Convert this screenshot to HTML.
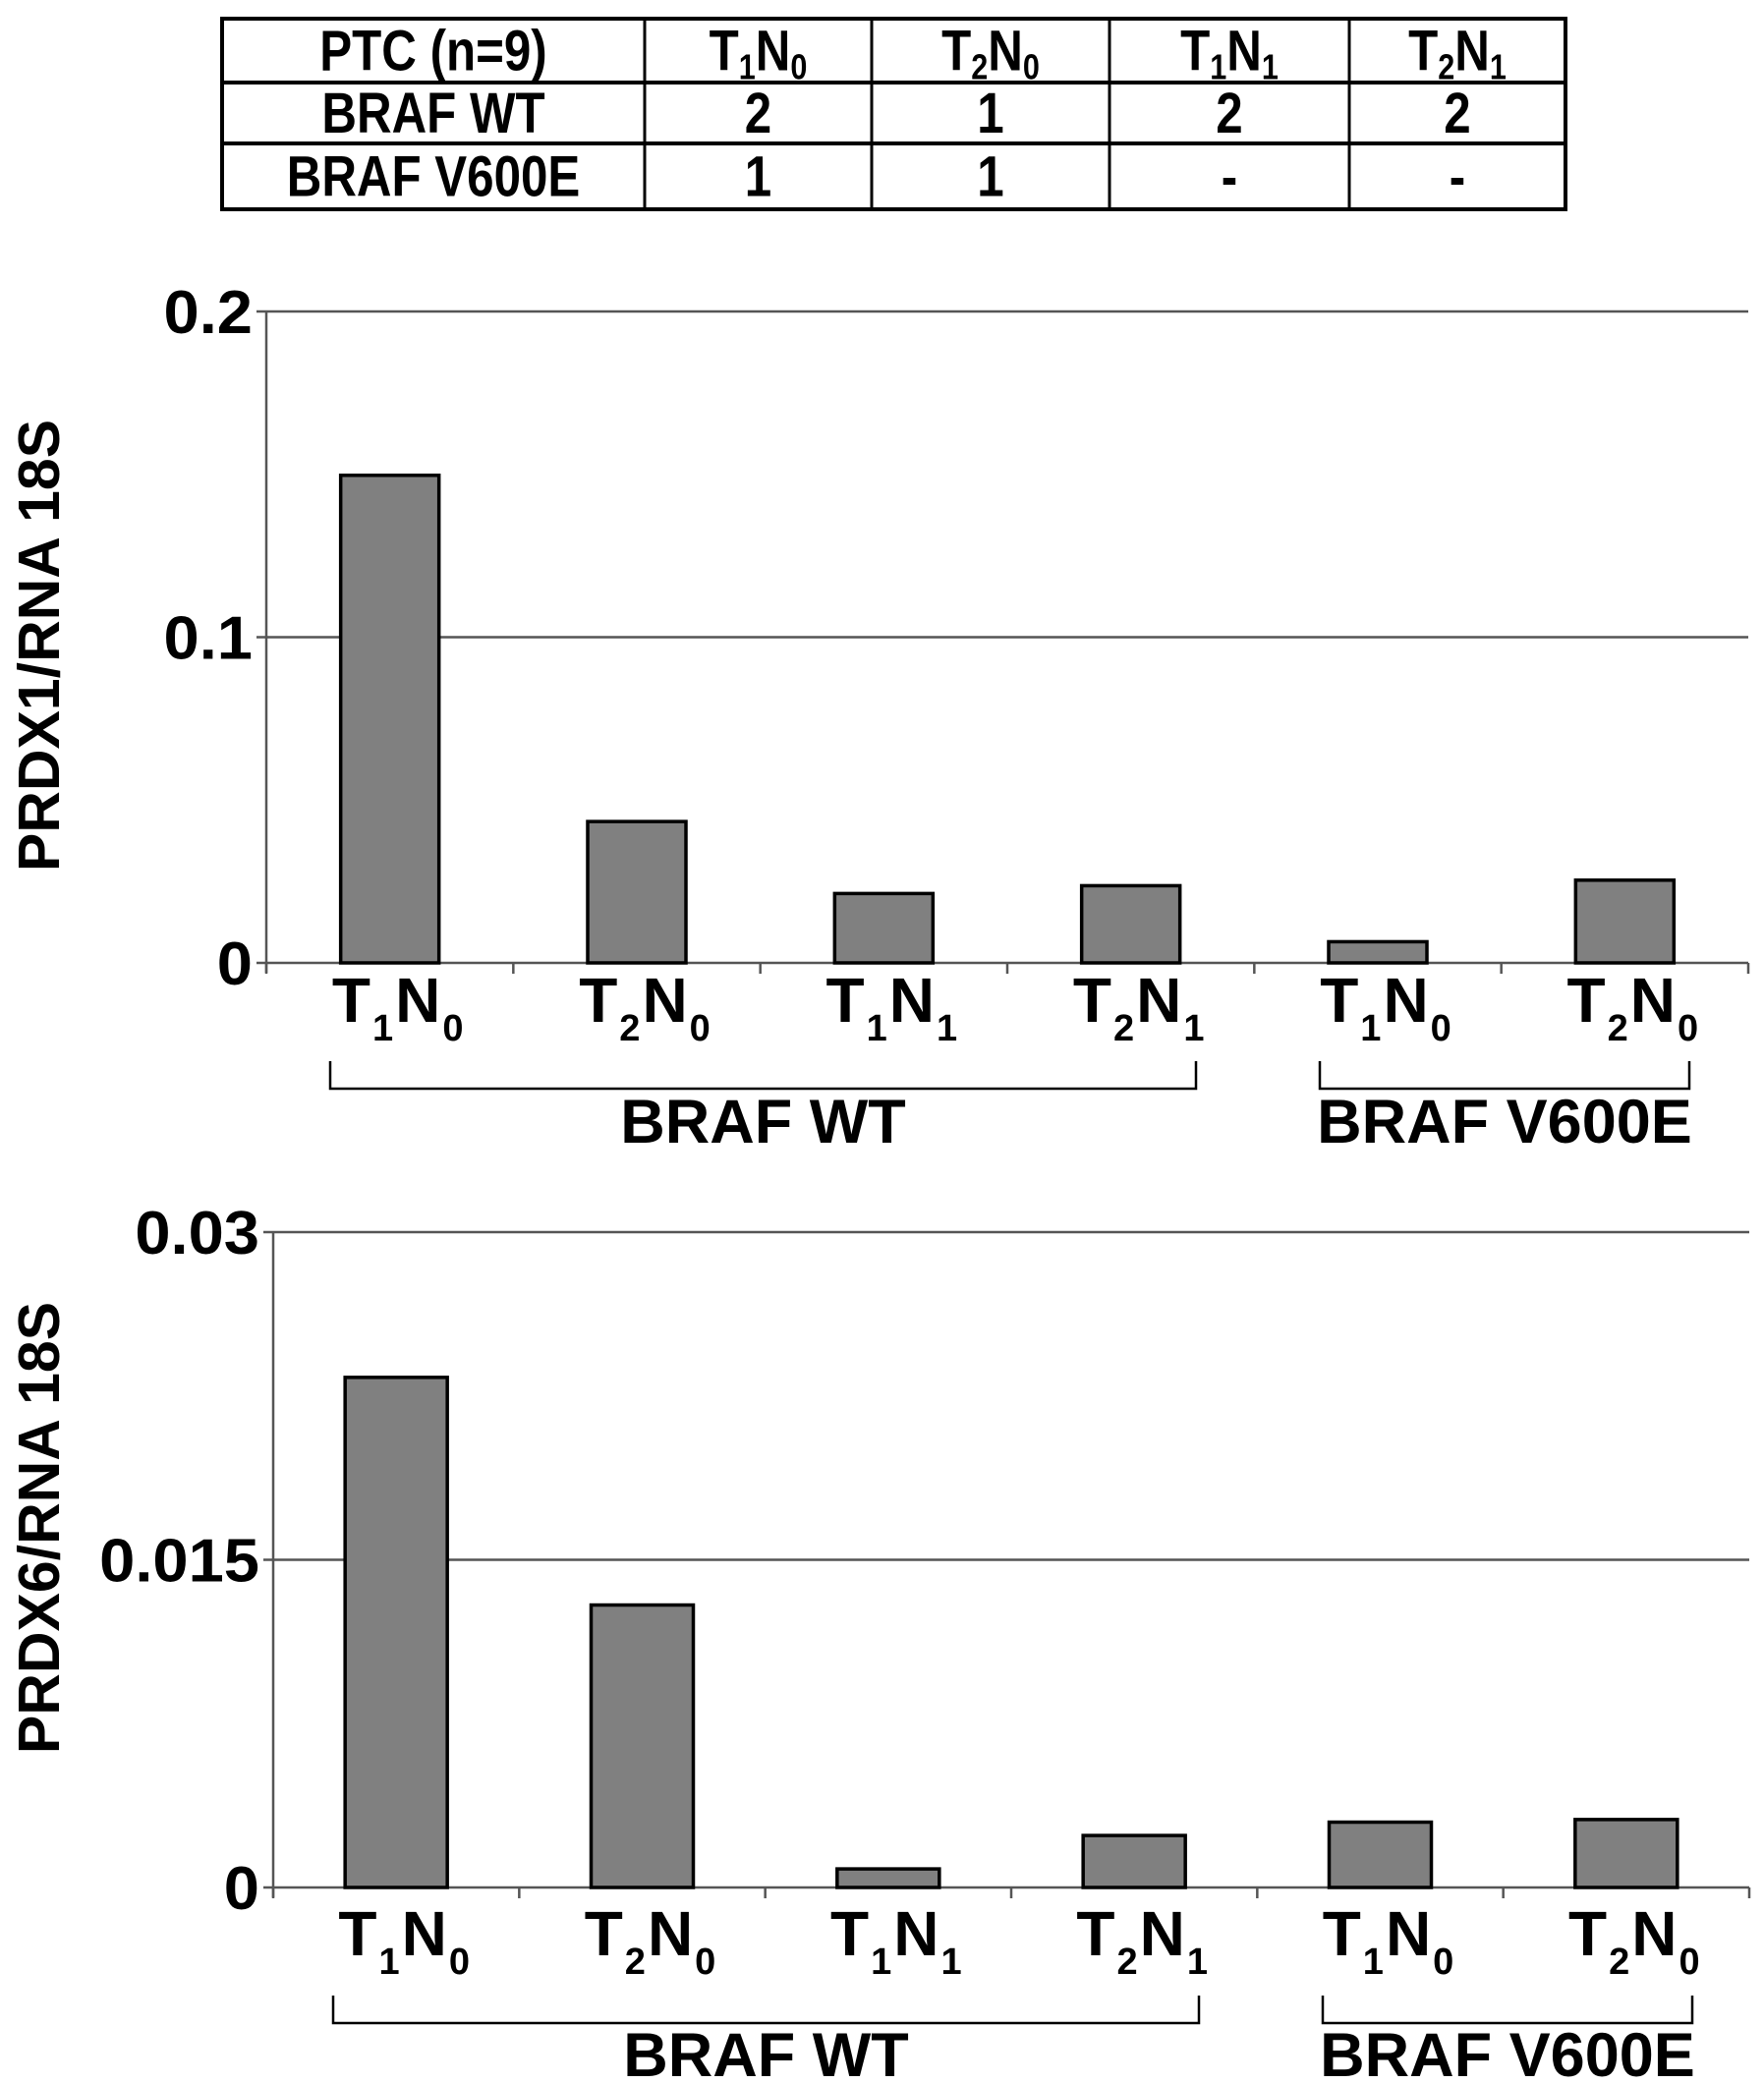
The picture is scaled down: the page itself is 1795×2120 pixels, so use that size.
<!DOCTYPE html>
<html><head><meta charset="utf-8"><style>
html,body{margin:0;padding:0;background:#fff}
svg{display:block}
text{font-family:"Liberation Sans",Arial,sans-serif;font-weight:bold;fill:#000}
</style></head><body>
<svg id="fig" width="1795" height="2120" viewBox="0 0 1795 2120" xmlns="http://www.w3.org/2000/svg"></svg>
<script>
const categories = ["T1N0","T2N0","T1N1","T2N1","T1N0","T2N0"];
const prdx1Values = [0.1497, 0.0434, 0.0213, 0.0237, 0.0065, 0.0254];
const prdx6Values = [0.02335, 0.01293, 0.00085, 0.00238, 0.00299, 0.00311];
const prdx1Ticks = [0, 0.1, 0.2];
const prdx1TickLabels = ["0", "0.1", "0.2"];
const prdx6Ticks = [0, 0.015, 0.03];
const prdx6TickLabels = ["0", "0.015", "0.03"];
const tableHeader = ["PTC (n=9)","T1N0","T2N0","T1N1","T2N1"];
const tableRowWT = ["BRAF WT","2","1","2","2"];
const tableRowV600E = ["BRAF V600E","1","1","-","-"];

const NS = "http://www.w3.org/2000/svg";
const svg = document.getElementById("fig");
function mk(tag, attrs, parent){
  const e = document.createElementNS(NS, tag);
  for (const k in attrs) e.setAttribute(k, attrs[k]);
  (parent||svg).appendChild(e);
  return e;
}
function subLabel(parent, x, y, code, big, small, dy, gap){
  const t = mk("text", {x:x, y:y, "text-anchor":"middle", "font-size":big}, parent);
  const parts = [code[0], code[1], code[2], code[3]];
  parts.forEach((p,i)=>{
    const ts = document.createElementNS(NS,"tspan");
    ts.textContent = p;
    if (i%2===1){ ts.setAttribute("font-size", small); ts.setAttribute("dy", dy); ts.setAttribute("dx", gap); }
    else if (i>0){ ts.setAttribute("dy", -dy); ts.setAttribute("dx", gap); }
    t.appendChild(ts);
  });
  return t;
}

// ---------- table ----------
const colX = [226, 656, 887, 1129, 1373, 1593];
const rowY = [19, 84, 146, 213];
const tbl = mk("g", {});


mk("rect", {x:colX[0], y:rowY[0], width:colX[5]-colX[0], height:rowY[3]-rowY[0], fill:"none", stroke:"#000", "stroke-width":4}, tbl);
for (let i=1;i<5;i++) mk("line",{x1:colX[i],x2:colX[i],y1:rowY[0],y2:rowY[3],stroke:"#000","stroke-width":3},tbl);
for (let j=1;j<3;j++) mk("line",{x1:colX[0],x2:colX[5],y1:rowY[j],y2:rowY[j],stroke:"#000","stroke-width":4},tbl);
const rows = [tableHeader, tableRowWT, tableRowV600E];
rows.forEach((row, r)=>{
  row.forEach((cell, c)=>{
    const cx = (colX[c]+colX[c+1])/2;
    const base = rowY[r] + (rowY[r+1]-rowY[r])/2 + 20;
    const g = mk("g", {transform:`translate(${cx},${base}) scale(0.85,1)`}, tbl);
    
    
    if (r===0 && c>0) subLabel(g, 0, 0, cell, 58, 36, 9, 0);
    else mk("text", {x:0, y:0, "text-anchor":"middle", "font-size":58}, g).textContent = cell;
  });
});

// ---------- charts ----------
function drawChart(cfg){
  const g = mk("g", {});
  
  
  const maxV = cfg.ticks[cfg.ticks.length-1];
  const yScale = v => cfg.y0 - (v/maxV)*(cfg.y0 - cfg.yTop);
  const catW = (cfg.xR - cfg.xL)/cfg.values.length;
  const xCenter = i => cfg.xL + catW*(i+0.5);
  cfg.ticks.forEach((t,i)=>{
    const y = yScale(t);
    const gl = mk("line",{x1:cfg.xL-10,x2:cfg.xR,y1:y,y2:y,stroke:"#555","stroke-width":2.5},g);
    
    
    const tg = mk("g",{transform:`translate(${cfg.xL-14},${y+22}) scale(1.05,1)`},g);
    const tl = mk("text",{x:0,y:0,"text-anchor":"end","font-size":62},tg);
    tl.textContent = cfg.tickLabels[i];
    
    
  });
  const ya = mk("line",{x1:cfg.xL,x2:cfg.xL,y1:cfg.yTop,y2:cfg.y0+10,stroke:"#555","stroke-width":2.5},g);
  
  
  for (let i=0;i<=cfg.values.length;i++){
    const x = cfg.xL + catW*i;
    mk("line",{x1:x,x2:x,y1:cfg.y0,y2:cfg.y0+11,stroke:"#555","stroke-width":2.5},g);
  }
  cfg.values.forEach((v,i)=>{
    const y = yScale(v);
    const b = mk("rect",{x:xCenter(i)-cfg.barW/2,y:y,width:cfg.barW,height:cfg.y0-y,fill:"#808080",stroke:"#000","stroke-width":3.5},g);
    
    
    const lbl = subLabel(g, xCenter(i)+8, cfg.labelY, categories[i], 64, 38, 19, 2);
    
    
  });
  const yt = mk("text",{x:0,y:0,"text-anchor":"middle","font-size":59,transform:`translate(${cfg.titleX},${cfg.titleY}) rotate(-90)`},g);
  yt.textContent = cfg.title;
  
  
  cfg.brackets.forEach(br=>{
    const p = mk("path",{d:`M${br[0]},${cfg.brTop} V${cfg.brY} H${br[1]} V${cfg.brTop}`,fill:"none",stroke:"#000","stroke-width":2.5},g);
    
    
    const t = mk("text",{x:(br[0]+br[1])/2,y:cfg.groupY,"text-anchor":"middle","font-size":63},g);
    t.textContent = br[2];
    
    
  });
}

drawChart({name:"prdx1-chart", values:prdx1Values, ticks:prdx1Ticks, tickLabels:prdx1TickLabels,
  xL:271, xR:1779, y0:980, yTop:317, barW:100, labelY:1040, title:"PRDX1/RNA 18S", titleX:60, titleY:657,
  brTop:1080, brY:1108, groupY:1163, brackets:[[336,1217,"BRAF WT"],[1343,1719,"BRAF V600E"]]});
drawChart({name:"prdx6-chart", values:prdx6Values, ticks:prdx6Ticks, tickLabels:prdx6TickLabels,
  xL:278, xR:1780, y0:1921, yTop:1254, barW:104, labelY:1990, title:"PRDX6/RNA 18S", titleX:60, titleY:1555,
  brTop:2031, brY:2059, groupY:2113, brackets:[[339,1220,"BRAF WT"],[1346,1722,"BRAF V600E"]]});
</script>
</body></html>
